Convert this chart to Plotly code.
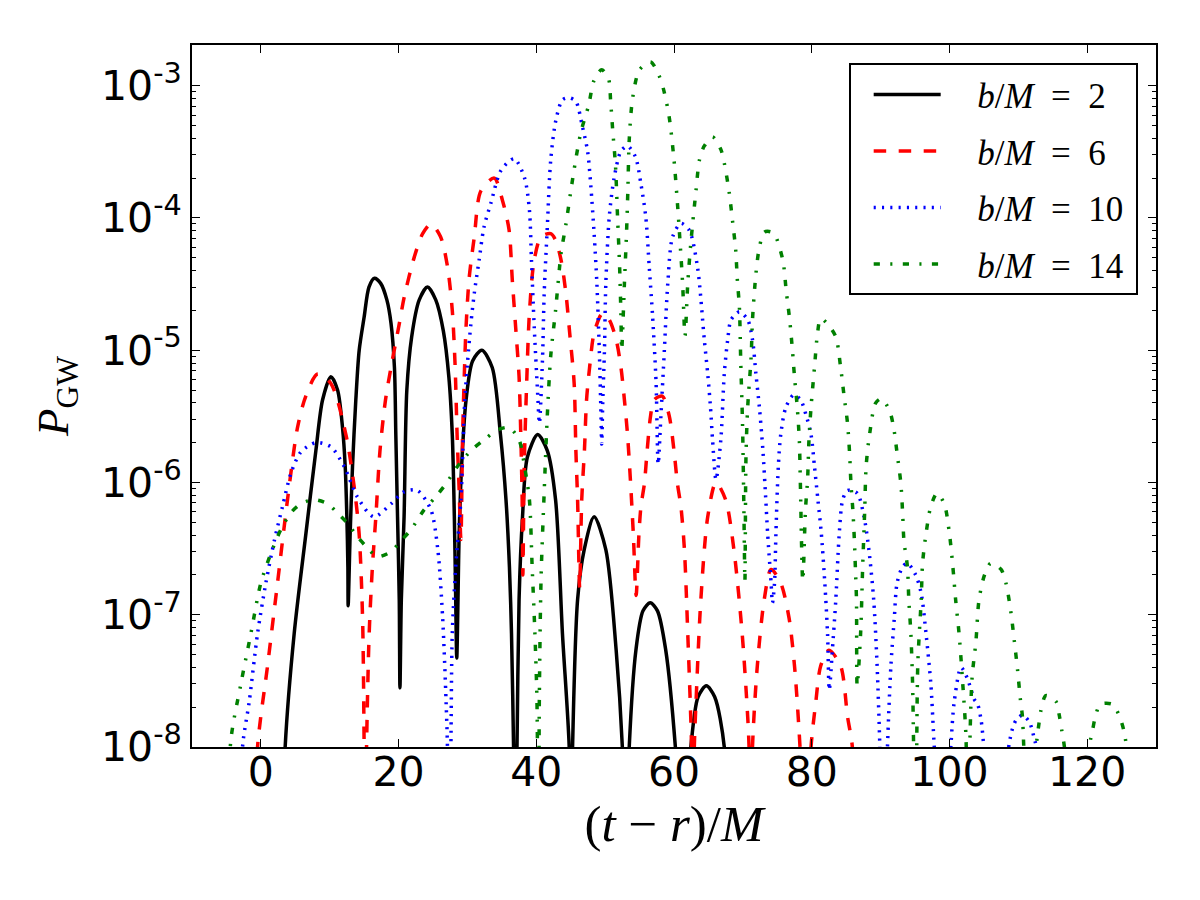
import math
import plotly.graph_objects as go

# ---------------- data ----------------
t_b2 = [3.0, 3.53, 4.84, 6.54, 7.99, 8.96, 10.17, 11.14, 11.86, 12.25, 12.49, 12.64, 12.68,
        12.97, 13.31, 13.79, 14.28, 15.0, 15.7, 16.5, 17.4, 18.3, 18.9, 19.4, 19.6, 19.85, 20.1, 20.2,
        20.4, 20.8, 21.2, 21.9, 23.0, 24.2, 25.4, 26.5, 27.3, 27.8, 28.1, 28.3, 28.45,
        28.8, 29.15, 29.8, 30.75, 32.1, 33.6, 34.8, 35.6, 36.1, 36.4, 36.7, 36.95,
        37.2, 37.5, 38.0, 38.7, 40.2, 41.6, 42.8, 43.8, 44.78, 45.0,
        45.27, 46.0, 46.96, 48.4, 50.1, 51.6, 52.5, 53.0,
        53.5, 54.47, 55.5, 56.55, 57.6, 58.8, 60.2, 61.3,
        62.45, 63.5, 64.7, 65.9, 67.3, 67.6]
p_b2 = [1e-9, 1.0e-8, 7.2e-8, 4.1e-7, 1.74e-6, 4.2e-6, 6.3e-6, 5.0e-6, 2.6e-6, 1.32e-6, 5.5e-7, 2.3e-7, 1.17e-7,
        4.1e-7, 1.32e-6, 4.2e-6, 1.0e-5, 1.78e-5, 3.0e-5, 3.5e-5, 3.2e-5, 2.4e-5, 1.6e-5, 7.4e-6, 2.3e-6, 5.5e-7, 1.3e-7, 2.8e-8,
        1.3e-7, 5.5e-7, 5.0e-6, 1.26e-5, 2.4e-5, 3.0e-5, 2.4e-5, 1.4e-5, 6.3e-6, 2.3e-6, 5.5e-7, 1.3e-7, 4.7e-8,
        4.1e-7, 1.32e-6, 4.2e-6, 8.3e-6, 1.0e-5, 7.4e-6, 2.3e-6, 7.4e-7, 2.3e-7, 7.2e-8, 1.0e-8, 1e-9,
        1.0e-8, 1.3e-7, 5.5e-7, 1.55e-6, 2.3e-6, 1.74e-6, 7.4e-7, 7.2e-8, 1.0e-8, 1e-9,
        1.0e-8, 1.3e-7, 3.1e-7, 5.5e-7, 3.1e-7, 5.4e-8, 1.0e-8, 1e-9,
        1.0e-8, 5.4e-8, 1.07e-7, 1.23e-7, 1.07e-7, 5.4e-8, 1.0e-8, 1e-9,
        1.0e-8, 2.4e-8, 2.9e-8, 2.4e-8, 1.0e-8, 1e-9]

t_b6 = [-1.0, -0.48, 0.97, 2.42, 3.87, 5.32, 6.53, 8.23, 10.17, 12.35, 13.55, 14.27, 14.77, 15.0, 15.15,
        15.35, 15.73, 16.2, 16.7, 17.3, 18.1, 19.0, 20.1, 20.8, 22.3, 23.5, 24.7, 26.1, 27.1, 27.8,
        28.2, 28.5, 28.8, 29.05, 29.3, 29.6, 29.8, 30.25, 31.0, 31.95, 33.9, 35.1, 36.05, 36.5, 37.0,
        37.5, 37.75, 37.95, 38.05, 38.25, 38.6, 39.0, 39.7, 40.7, 42.1, 42.8, 43.6, 44.3, 44.85,
        45.5, 45.75, 46.0, 46.3, 46.6, 47.0, 47.3, 47.8, 48.4, 49.6, 50.6, 51.6, 52.3, 52.8, 53.25,
        53.7, 54.1, 54.5, 54.9, 55.2, 55.7, 56.1, 56.6, 57.1, 58.3, 59.3, 60.0, 60.5, 61.0, 61.5,
        62.0, 62.55, 62.75, 62.95, 63.2, 63.9, 64.9, 66.1, 67.5, 68.7, 69.9, 70.7, 70.9, 71.15,
        71.4, 72.1, 73.1, 74.1, 75.5, 76.7, 77.5, 78.3, 79.1,
        79.9, 80.6, 81.3, 82.5, 84.2, 85.2, 85.9, 86.2]
p_b6 = [1e-9, 1.0e-8, 4.1e-8, 1.74e-7, 7.4e-7, 2.6e-6, 4.5e-6, 6.6e-6, 5.6e-6, 2.3e-6, 9.3e-7, 4.1e-7, 9.5e-8, 1.0e-8, 1e-9,
        1.0e-8, 7.2e-8, 2.3e-7, 5.5e-7, 1.74e-6, 4.2e-6, 7.9e-6, 1.58e-5, 2.5e-5, 5.1e-5, 7.6e-5, 9.0e-5, 7.2e-5, 4.3e-5, 2.0e-5,
        7.9e-6, 2.3e-6, 8.7e-7, 3.7e-7, 2.3e-6, 7.9e-6, 1.5e-5, 3.5e-5, 7.2e-5, 1.6e-4, 2.0e-4, 1.35e-4, 8.1e-5, 3.5e-5, 1.5e-5,
        6.3e-6, 2.3e-6, 7.4e-7, 2.0e-7, 1.32e-6, 5.6e-6, 1.9e-5, 4.8e-5, 7.2e-5, 7.6e-5, 6.8e-5, 4.8e-5, 2.7e-5, 1.35e-5,
        5.6e-6, 1.74e-6, 7.4e-7, 1.6e-7, 7.4e-7, 1.78e-6, 4.2e-6, 7.9e-6, 1.35e-5, 1.9e-5, 1.7e-5, 1.2e-5, 7.4e-6, 4.2e-6, 2.3e-6,
        9.8e-7, 4.0e-7, 1.4e-7, 4.0e-7, 6.6e-7, 9.8e-7, 1.74e-6, 3.2e-6, 4.2e-6, 4.5e-6, 3.2e-6, 1.74e-6, 9.8e-7, 6.6e-7, 3.2e-7,
        7.2e-8, 1.0e-8, 1e-9, 1.0e-8, 2.2e-8, 1.3e-7, 5.5e-7, 1.0e-6, 7.4e-7, 3.1e-7, 7.2e-8, 1.7e-8, 1.0e-8, 1e-9,
        1.0e-8, 4.1e-8, 1.3e-7, 2.2e-7, 1.74e-7, 9.5e-8, 4.1e-8, 1.0e-8, 1e-9,
        1.0e-8, 2.2e-8, 4.1e-8, 5.4e-8, 4.1e-8, 1.7e-8, 1.0e-8, 1e-9]

t_b10 = [-3.0, -2.66, -1.69, -0.48, 0.73, 1.94, 3.15, 4.36, 5.81, 7.99, 10.17, 12.1, 14.0, 16.4, 18.9, 20.8,
         22.75, 24.7, 25.7, 26.4, 26.9, 27.1, 27.35, 27.6, 27.8, 28.3, 29.05, 29.6, 30.0, 30.5, 31.0, 31.7,
         32.4, 33.4, 34.9, 36.8, 38.3, 39.0, 39.3, 39.7, 40.2, 40.45, 40.9, 41.15, 41.6, 42.1, 42.85, 43.8,
         44.8, 45.75, 46.7, 47.45, 47.9, 48.4, 48.8, 49.15, 49.4, 49.5, 49.65, 49.9, 50.1, 50.6, 51.3, 52.3,
         53.25, 54.4, 55.2, 55.9, 56.4, 56.9, 57.4, 57.7, 58.1, 58.6, 59.1, 59.8, 61.0, 62.2, 63.4, 64.4,
         64.9, 65.3, 65.6, 66.1, 66.8, 67.3, 67.8, 68.3, 69.5, 70.7, 71.4, 71.9, 72.4, 72.9, 73.3, 73.6,
         74.1, 74.3, 74.6, 74.8, 75.15, 75.5, 76.25, 77.4, 78.4, 79.2, 79.9, 80.4, 80.9, 81.4, 81.9, 82.3,
         82.55, 83.0, 83.5, 84.0, 84.5, 85.2, 86.6, 87.6, 88.3, 89.0, 89.5, 89.9, 90.45, 91.0, 91.5, 92.0,
         92.4, 93.2, 93.9, 95.1, 95.9, 96.6, 97.3, 97.8, 99.0, 100.2, 100.7, 101.7, 102.6, 103.6, 104.1,
         104.6, 105.0, 106.8, 108.6, 109.2, 109.7, 110.6, 111.6, 112.3, 112.6, 113.5]
p_b10 = [1e-9, 1.0e-8, 2.2e-8, 7.2e-8, 1.74e-7, 3.6e-7, 6.6e-7, 1.17e-6, 1.7e-6, 2.0e-6, 1.86e-6, 1.32e-6, 7.8e-7, 5.5e-7, 6.9e-7, 8.5e-7,
         8.7e-7, 6.2e-7, 3.1e-7, 9.5e-8, 2.2e-8, 1.0e-8, 1e-9, 1.0e-8, 7.2e-8, 2.3e-7, 7.4e-7, 4.0e-6, 7.9e-6, 1.58e-5, 2.7e-5, 4.8e-5,
         8.5e-5, 1.29e-4, 2.3e-4, 2.8e-4, 2.0e-4, 1.15e-4, 4.8e-5, 1.5e-5, 4.7e-6, 2.8e-6, 8.5e-6, 2.7e-5, 8.5e-5, 2.75e-4, 5.5e-4, 7.8e-4,
         8.1e-4, 7.6e-4, 4.9e-4, 3.2e-4, 1.8e-4, 7.6e-5, 3.2e-5, 1.0e-5, 3.2e-6, 1.95e-6, 4.0e-6, 1.0e-5, 3.2e-5, 1.02e-4, 2.0e-4, 3.2e-4,
         3.5e-4, 2.9e-4, 1.8e-4, 1.02e-4, 4.3e-5, 1.78e-5, 5.6e-6, 1.38e-6, 3.2e-6, 1.0e-5, 3.2e-5, 7.2e-5, 9.1e-5, 8.1e-5, 4.3e-5, 1.2e-5,
         6.6e-6, 3.7e-6, 2.1e-6, 1.05e-6, 2.1e-6, 6.6e-6, 1.2e-5, 1.7e-5, 1.95e-5, 1.7e-5, 1.2e-5, 6.6e-6, 3.7e-6, 1.78e-6, 7.9e-7, 4.1e-7,
         1.74e-7, 1.23e-7, 1.74e-7, 4.1e-7, 1.32e-6, 2.3e-6, 3.7e-6, 4.6e-6, 4.2e-6, 3.2e-6, 2.3e-6, 1.32e-6, 7.4e-7, 4.1e-7, 1.74e-7, 7.2e-8,
         2.7e-8, 5.4e-8, 1.3e-7, 4.1e-7, 7.4e-7, 8.7e-7, 8.3e-7, 5.5e-7, 3.1e-7, 1.3e-7, 4.1e-8, 1.0e-8, 1e-9, 1.0e-8, 4.1e-8, 9.5e-8,
         1.74e-7, 2.3e-7, 2.45e-7, 2.0e-7, 1.45e-7, 7.2e-8, 3.0e-8, 1.0e-8, 1e-9, 1.0e-8, 2.2e-8, 4.0e-8, 3.3e-8, 2.3e-8, 2.1e-8,
         1.6e-8, 1.0e-8, 1e-9, 1.0e-8, 1.4e-8, 1.6e-8, 1.74e-8, 1.55e-8, 1.17e-8, 1.0e-8, 1e-9]

t_b14 = [-5.0, -4.36, -2.9, -1.45, 0.0, 1.45, 2.9, 4.36, 5.81, 7.74, 9.68, 11.1, 12.6, 14.0, 15.5, 16.9,
         18.9, 20.3, 21.8, 23.7, 25.4, 26.9, 28.55, 30.5, 32.4, 34.4, 36.05, 37.5, 38.3, 39.0, 39.4, 39.8,
         40.1, 40.3, 40.45, 40.7, 41.15, 41.6, 42.1, 42.8, 43.6, 44.3, 45.0, 45.75, 46.5, 47.6, 48.4, 49.5,
         50.5, 50.8, 51.1, 51.5, 51.8, 52.1, 52.3, 52.4, 52.8, 53.1, 53.3, 53.5, 54.0, 55.0, 56.6, 57.8,
         58.5, 59.3, 60.0, 60.5, 60.8, 61.25, 61.6, 62.0, 62.45, 63.2, 63.7, 64.4, 65.6, 66.8, 67.3, 68.0,
         68.5, 68.95, 69.2, 69.5, 69.7, 69.95, 70.15, 70.3, 70.45, 70.7, 71.2, 71.4, 71.9, 72.4, 73.1, 73.8,
         74.55, 75.8, 76.3, 76.8, 77.2, 77.5, 77.9, 78.2, 78.35, 78.7, 79.1, 79.4, 79.6, 79.9, 80.4, 80.85,
         81.3, 82.3, 83.5, 84.2, 84.7, 85.2, 85.5, 85.7, 86.0, 86.2, 86.35, 86.5, 86.6, 87.1, 87.4, 87.7,
         87.9, 88.4, 89.3, 90.15, 91.3, 91.9, 92.4, 92.95, 93.2, 93.4, 93.9, 94.1, 94.4, 94.65, 94.8, 95.1,
         95.4, 95.9, 96.1, 96.6, 97.3, 98.2, 99.25, 100.0, 100.5, 100.9, 101.4, 101.9, 102.4, 102.7, 103.0, 103.3,
         103.85, 104.3, 105.1, 106.0, 107.5, 108.2, 108.9, 109.4, 109.9, 110.3, 110.6, 110.8, 111.7, 112.6, 113.0, 113.3,
         114.0, 115.5, 115.95, 116.3, 116.7, 118.5, 120.3, 120.8, 121.2, 121.9, 123.7, 124.7, 125.3, 125.7, 126.2]
p_b14 = [1e-9, 1.12e-8, 3.0e-8, 7.2e-8, 1.74e-7, 2.9e-7, 4.4e-7, 5.9e-7, 6.9e-7, 7.4e-7, 6.9e-7, 5.9e-7, 4.9e-7, 3.9e-7, 3.2e-7, 2.75e-7,
         3.0e-7, 3.6e-7, 4.4e-7, 6.2e-7, 7.8e-7, 9.8e-7, 1.32e-6, 1.74e-6, 2.1e-6, 2.5e-6, 2.6e-6, 2.1e-6, 1.32e-6, 7.4e-7, 2.3e-7, 7.2e-8,
         2.2e-8, 1e-9, 2.5e-8, 1.95e-7, 8.5e-7, 3.2e-6, 9.1e-6, 2.0e-5, 5.4e-5, 8.9e-5, 1.58e-4, 2.8e-4, 4.5e-4, 7.1e-4, 1.1e-3, 1.32e-3,
         1.12e-3, 7.6e-4, 4.6e-4, 2.5e-4, 1.02e-4, 4.3e-5, 1.78e-5, 1.0e-5, 3.2e-5, 7.6e-5, 1.62e-4, 3.9e-4, 8.1e-4, 1.32e-3, 1.51e-3, 1.2e-3,
         9.3e-4, 5.8e-4, 2.75e-4, 1.29e-4, 7.6e-5, 3.2e-5, 1.29e-5, 3.2e-5, 6.5e-5, 1.62e-4, 2.75e-4, 3.5e-4, 4.1e-4, 3.3e-4, 2.6e-4, 1.58e-4,
         9.5e-5, 5.8e-5, 3.4e-5, 2.1e-5, 7.9e-6, 2.8e-6, 6.3e-7, 1.8e-7, 1.55e-6, 3.7e-6, 8.9e-6, 1.7e-5, 3.8e-5, 6.0e-5, 7.8e-5, 7.9e-5,
         7.6e-5, 4.8e-5, 2.8e-5, 1.7e-5, 1.0e-5, 6.3e-6, 3.7e-6, 2.1e-6, 1.0e-6, 1.8e-7, 6.3e-7, 1.05e-6, 2.1e-6, 3.7e-6, 7.4e-6, 1.35e-5,
         1.74e-5, 1.58e-5, 1.26e-5, 7.4e-6, 4.5e-6, 2.8e-6, 1.66e-6, 9.8e-7, 5.9e-7, 3.6e-7, 2.2e-7, 1.3e-7, 2.9e-8, 7.2e-8, 2.3e-7, 6.2e-7,
         1.32e-6, 2.3e-6, 4.0e-6, 4.3e-6, 3.5e-6, 2.6e-6, 1.66e-6, 9.8e-7, 5.9e-7, 3.6e-7, 2.3e-7, 1.3e-7, 7.2e-8, 3.0e-8, 1.0e-8, 1e-9,
         4.1e-8, 1.3e-7, 2.45e-7, 4.1e-7, 6.6e-7, 8.3e-7, 6.9e-7, 4.1e-7, 2.3e-7, 1.3e-7, 7.2e-8, 3.2e-8, 1.2e-8, 1e-9, 1.26e-8, 3.4e-8,
         6.3e-8, 1.3e-7, 2.0e-7, 2.45e-7, 2.2e-7, 1.74e-7, 1.07e-7, 6.5e-8, 3.8e-8, 2.3e-8, 1.7e-8, 1.0e-8, 1e-9, 1.0e-8, 1.5e-8, 1.9e-8,
         2.45e-8, 2.2e-8, 1.74e-8, 1.35e-8, 1.0e-8, 1e-9, 1.0e-8, 1.35e-8, 1.7e-8, 2.1e-8, 2.1e-8, 1.7e-8, 1.35e-8, 1.0e-8, 1e-9]

series_names = ["\u2002\u2009\u2009<i>b</i>/<i>M</i>\u2002=\u20022\u2009",
                "\u2002\u2009\u2009<i>b</i>/<i>M</i>\u2002=\u20026\u2009",
                "\u2002\u2009\u2009<i>b</i>/<i>M</i>\u2002=\u200210\u2009",
                "\u2002\u2009\u2009<i>b</i>/<i>M</i>\u2002=\u200214\u2009"]
x_tick_vals = [0, 20, 40, 60, 80, 100, 120]
y_tick_vals = [1e-8, 1e-7, 1e-6, 1e-5, 1e-4, 1e-3]
y_tick_text = ["10<sup>-8</sup>", "10<sup>-7</sup>", "10<sup>-6</sup>", "10<sup>-5</sup>",
               "10<sup>-4</sup>", "10<sup>-3</sup>"]

# ---------------- styles ----------------
styles = [
    dict(color="#000000", dash="solid"),
    dict(color="#ff0000", dash="12.5px,12.5px"),
    dict(color="#0000ff", dash="2.1px,6.2px"),
    dict(color="#008000", dash="6.2px,10.4px,2.1px,10.4px"),
]

fig = go.Figure()
for i, (tx, py) in enumerate([(t_b2, p_b2), (t_b6, p_b6), (t_b10, p_b10), (t_b14, p_b14)]):
    fig.add_trace(go.Scatter(
        x=tx, y=py, mode="lines", name=series_names[i], legendgroup=f"g{i}",
        line=dict(color=styles[i]["color"], dash=styles[i]["dash"], width=3.5,
                  shape="spline", smoothing=0.8),
        hoverinfo="skip"))

minor_vals = [m * 10.0 ** e for e in range(-8, -2) for m in range(2, 10)]

fig.update_layout(
    width=1200, height=900,
    paper_bgcolor="white", plot_bgcolor="white",
    margin=dict(l=192, r=44, t=45, b=153),
    showlegend=True,
    legend=dict(x=0.981, y=0.974, xanchor="right", yanchor="top",
                bgcolor="white", bordercolor="black", borderwidth=2,
                font=dict(family="Liberation Serif", size=35, color="black"),
                tracegroupgap=8, itemwidth=67, indentation=18),
)
fig.update_xaxes(
    range=[-10, 130], tickmode="array", tickvals=x_tick_vals,
    ticks="inside", ticklen=8, tickwidth=1, tickcolor="black",
    showline=True, linewidth=2, linecolor="black", mirror="ticks",
    showgrid=False, zeroline=False, ticklabelstandoff=-12,
    tickfont=dict(family="DejaVu Sans", size=41, color="black"),
    title=dict(text="(<i>t</i> − <i>r</i>)/<i>M</i>",
               font=dict(family="Liberation Serif", size=51, color="black"), standoff=10),
)
fig.update_yaxes(
    type="log", range=[-8, math.log10(2.03e-3)],
    tickmode="array", tickvals=y_tick_vals, ticktext=y_tick_text,
    ticks="inside", ticklen=8, tickwidth=1, tickcolor="black",
    minor=dict(ticks="inside", ticklen=4, tickwidth=1, tickcolor="black",
               tickmode="array", tickvals=minor_vals),
    showline=True, linewidth=2, linecolor="black", mirror="ticks",
    showgrid=False, zeroline=False,
    tickfont=dict(family="DejaVu Sans", size=41, color="black"),
    title=dict(text="<i>P</i><sub>GW</sub>",
               font=dict(family="Liberation Serif", size=45, color="black"), standoff=18),
)

fig.write_html("out.html")
